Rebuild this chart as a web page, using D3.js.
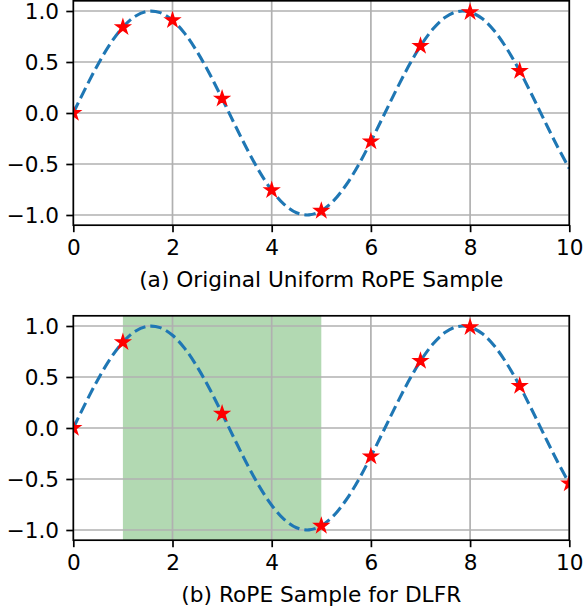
<!DOCTYPE html>
<html><head><meta charset="utf-8">
<script src="https://cdn.jsdelivr.net/npm/d3@7"></script>
<style>
html,body{margin:0;padding:0;background:#fff;}
svg{display:block;font-family:"DejaVu Sans",sans-serif;}
</style></head>
<body>
<svg id="c" width="586" height="613"></svg>
<script>
// curve x positions and values
const curveX = [0,0.25,0.5,0.75,1,1.25,1.5,1.75,2,2.25,2.5,2.75,3,3.25,3.5,3.75,4,4.25,4.5,4.75,5,5.25,5.5,5.75,6,6.25,6.5,6.75,7,7.25,7.5,7.75,8,8.25,8.5,8.75,9,9.25,9.5,9.75,10];
const curveY = [0,0.247,0.479,0.682,0.841,0.949,0.997,0.984,0.909,0.778,0.598,0.382,0.141,-0.108,-0.351,-0.572,-0.757,-0.895,-0.978,-0.999,-0.959,-0.859,-0.706,-0.510,-0.279,-0.033,0.215,0.450,0.657,0.823,0.938,0.995,0.989,0.923,0.798,0.624,0.412,0.174,-0.075,-0.319,-0.544];
// sample markers
const sampleAX = [0,1,2,3,4,5,6,7,8,9];
const sampleAY = [0,0.841,0.909,0.141,-0.757,-0.959,-0.279,0.657,0.989,0.412];
const sampleBX = [0,1,3,5,6,7,8,9,10];
const sampleBY = [0,0.841,0.141,-0.959,-0.279,0.657,0.989,0.412,-0.544];
const spanB = [1,5];
const xTicks = [0,2,4,6,8,10];
const yTicks = [-1.0,-0.5,0.0,0.5,1.0];
const captions = ["(a) Original Uniform RoPE Sample","(b) RoPE Sample for DLFR"];

const svg = d3.select("#c");
const L = 73.3, R = 569.3;
const panels = [
  {top:0.8, bottom:225.2, sx:sampleAX, sy:sampleAY, span:null, cap:captions[0]},
  {top:315.8, bottom:540.2, sx:sampleBX, sy:sampleBY, span:spanB, cap:captions[1]}
];
const fmt = v => (v<0 ? "\u2212" : "") + Math.abs(v).toFixed(1);
const starPath = (r) => {
  const pts = [];
  const ri = r*0.381966;
  for (let i=0;i<10;i++){
    const a = -Math.PI/2 + i*Math.PI/5;
    const rr = i%2===0 ? r : ri;
    pts.push([rr*Math.cos(a), rr*Math.sin(a)]);
  }
  return "M" + pts.map(p=>p[0].toFixed(2)+","+p[1].toFixed(2)).join("L") + "Z";
};

panels.forEach((p,i) => {
  const x = d3.scaleLinear().domain([0,10]).range([L,R]);
  const y = d3.scaleLinear().domain([-1.1,1.1]).range([p.bottom,p.top]);
  const g = svg.append("g");
  const clipId = "clip"+i;
  g.append("clipPath").attr("id",clipId).append("rect")
    .attr("x",L).attr("y",p.top).attr("width",R-L).attr("height",p.bottom-p.top);
  if (p.span) {
    g.append("rect").attr("x",x(p.span[0])).attr("y",p.top)
      .attr("width",x(p.span[1])-x(p.span[0])).attr("height",p.bottom-p.top)
      .attr("fill","#008000").attr("fill-opacity",0.3);
  }
  // grid
  const grid = g.append("g").attr("clip-path",`url(#${clipId})`);
  xTicks.forEach(t => grid.append("line").attr("x1",x(t)).attr("x2",x(t)).attr("y1",p.top).attr("y2",p.bottom)
    .attr("stroke","#b0b0b0").attr("stroke-width",1.7));
  yTicks.forEach(t => grid.append("line").attr("x1",L).attr("x2",R).attr("y1",y(t)).attr("y2",y(t))
    .attr("stroke","#b0b0b0").attr("stroke-width",1.7));
  // curve
  const line = d3.line().x((d,k)=>x(curveX[k])).y(d=>y(d)).curve(d3.curveCatmullRom);
  const data = g.append("g").attr("clip-path",`url(#${clipId})`);
  data.append("path").attr("d",line(curveY)).attr("fill","none")
    .attr("stroke","#1f77b4").attr("stroke-width",3.1).attr("stroke-dasharray","11.5,5");
  const sp = starPath(6.4);
  p.sx.forEach((v,k) => data.append("path").attr("d",sp)
    .attr("transform",`translate(${x(v)},${y(p.sy[k])})`)
    .attr("fill","red").attr("stroke","red").attr("stroke-width",2).attr("stroke-linejoin","miter"));
  // axes
  const xa = d3.axisBottom(x).tickValues(xTicks).tickSize(7).tickPadding(7.3).tickFormat(d3.format("d"));
  const ya = d3.axisLeft(y).tickValues(yTicks).tickSize(7).tickPadding(7.3).tickFormat(fmt);
  const gx = g.append("g").attr("transform",`translate(0,${p.bottom})`).call(xa);
  const gy = g.append("g").attr("transform",`translate(${L},0)`).call(ya);
  [gx,gy].forEach(a => {
    a.select(".domain").remove();
    a.selectAll(".tick line").attr("stroke","#000").attr("stroke-width",1.7);
    a.selectAll(".tick text").attr("font-size",21.6).attr("fill","#000").attr("font-family","DejaVu Sans");
  });
  gx.selectAll(".tick text").attr("dy","0.71em");
  gy.selectAll(".tick text").attr("dy","0.36em");
  g.append("rect").attr("x",L).attr("y",p.top).attr("width",R-L).attr("height",p.bottom-p.top)
    .attr("fill","none").attr("stroke","#000").attr("stroke-width",1.7);
  g.append("text").attr("x",(L+R)/2).attr("y",p.bottom+61.5).attr("text-anchor","middle")
    .attr("font-size",21.7).attr("fill","#000").text(p.cap);
});
</script>
</body></html>
